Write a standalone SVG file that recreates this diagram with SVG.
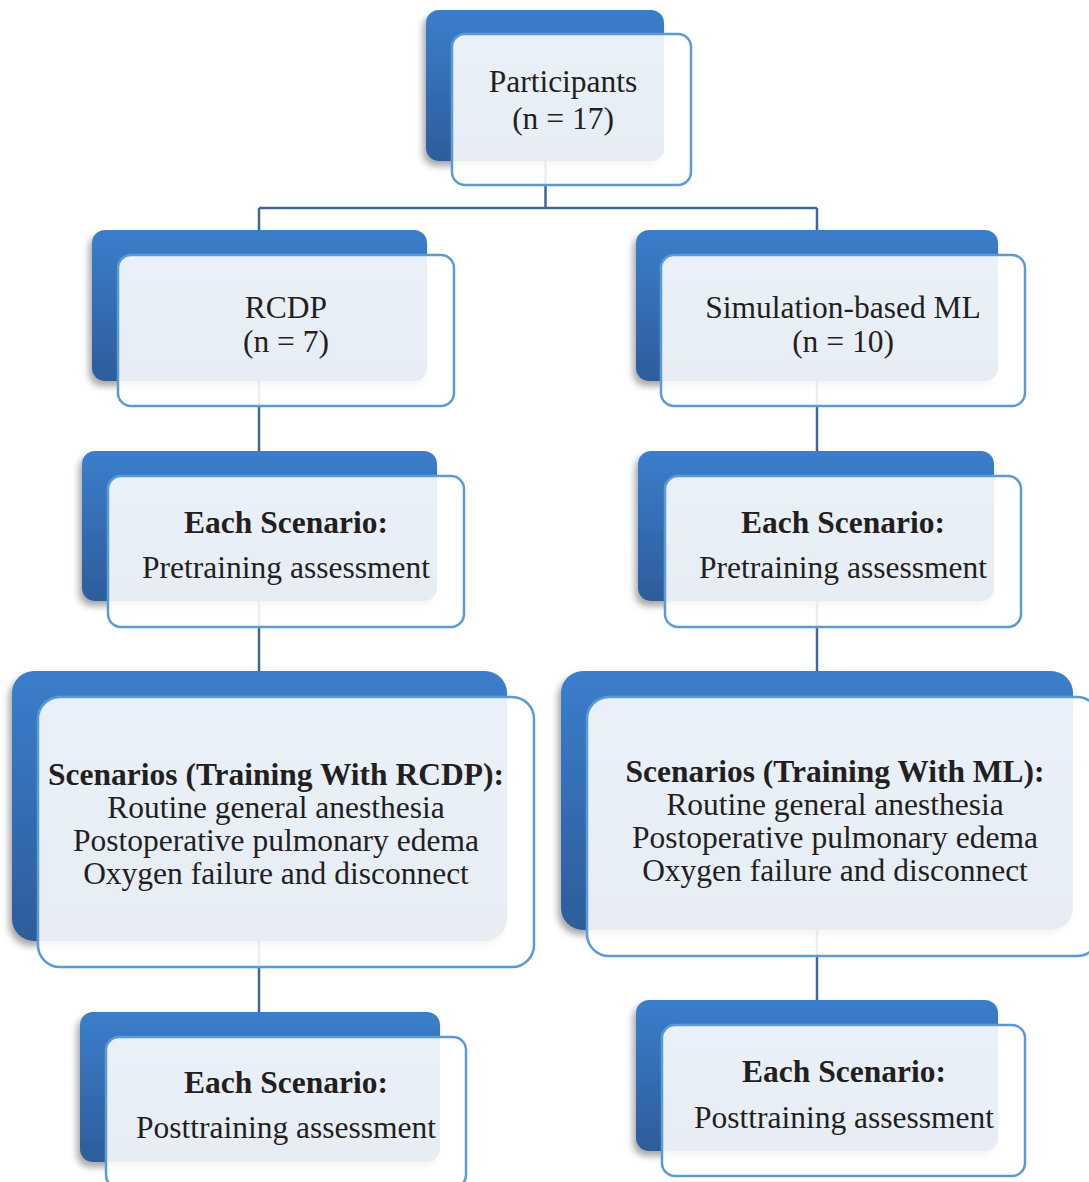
<svg xmlns="http://www.w3.org/2000/svg" width="1089" height="1182" viewBox="0 0 1089 1182">
<defs>
<linearGradient id="bg" x1="0" y1="0" x2="0" y2="1">
<stop offset="0" stop-color="#3b7ecb"/>
<stop offset="1" stop-color="#2d5d9b"/>
</linearGradient>
<filter id="sh" x="-10%" y="-10%" width="120%" height="130%">
<feDropShadow dx="-3" dy="5" stdDeviation="3.5" flood-color="#000" flood-opacity="0.35"/>
</filter>
<style>
.back{fill:url(#bg);filter:url(#sh)}
.front{fill:#ffffff;fill-opacity:0.89;stroke:#5b9bd5;stroke-width:2.5}
.t{font-family:"Liberation Serif","Times New Roman",serif;font-size:31.5px;fill:#231f20;text-anchor:middle}
.b{font-weight:bold}
.c{fill:none;stroke:#3f6797;stroke-width:2.5}
</style>
</defs>
<rect width="1089" height="1182" fill="#ffffff"/>
<g id="connectors">
<path class="c" d="M545.5 150 V208 M259 208 H817 M259 208 V1015 M817 208 V1003"/>
</g>
<g id="participants">
<rect class="back" x="426" y="10" width="238" height="151" rx="13"/>
<rect class="front" x="452" y="34" width="239" height="151" rx="13"/>
<text class="t" x="563" y="92">Participants</text>
<text class="t" x="563" y="129">(n = 17)</text>
</g>
<g id="rcdp">
<rect class="back" x="92" y="230" width="335" height="151" rx="13"/>
<rect class="front" x="118" y="255" width="336" height="151" rx="13"/>
<text class="t" x="286" y="318">RCDP</text>
<text class="t" x="286" y="352">(n = 7)</text>
</g>
<g id="simml">
<rect class="back" x="636" y="230" width="362" height="151" rx="13"/>
<rect class="front" x="661" y="255" width="364" height="151" rx="13"/>
<text class="t" x="843" y="318">Simulation-based ML</text>
<text class="t" x="843" y="352">(n = 10)</text>
</g>
<g id="pre-left">
<rect class="back" x="82" y="451" width="355" height="150" rx="13"/>
<rect class="front" x="108" y="476" width="356" height="151" rx="13"/>
<text class="t b" x="286" y="533">Each Scenario:</text>
<text class="t" x="286" y="578">Pretraining assessment</text>
</g>
<g id="pre-right">
<rect class="back" x="638" y="451" width="356" height="150" rx="13"/>
<rect class="front" x="665" y="476" width="356" height="151" rx="13"/>
<text class="t b" x="843" y="533">Each Scenario:</text>
<text class="t" x="843" y="578">Pretraining assessment</text>
</g>
<g id="scen-left">
<rect class="back" x="12" y="671" width="495" height="270" rx="22"/>
<rect class="front" x="38" y="697" width="496" height="270" rx="22"/>
<text class="t b" x="276" y="785">Scenarios (Training With RCDP):</text>
<text class="t" x="276" y="818">Routine general anesthesia</text>
<text class="t" x="276" y="851">Postoperative pulmonary edema</text>
<text class="t" x="276" y="884">Oxygen failure and disconnect</text>
</g>
<g id="scen-right">
<rect class="back" x="561" y="671" width="512" height="259" rx="22"/>
<rect class="front" x="587" y="697" width="512" height="259" rx="22"/>
<text class="t b" x="835" y="782">Scenarios (Training With ML):</text>
<text class="t" x="835" y="815">Routine general anesthesia</text>
<text class="t" x="835" y="848">Postoperative pulmonary edema</text>
<text class="t" x="835" y="881">Oxygen failure and disconnect</text>
</g>
<g id="post-left">
<rect class="back" x="80" y="1012" width="360" height="150" rx="13"/>
<rect class="front" x="106" y="1037" width="360" height="151" rx="13"/>
<text class="t b" x="286" y="1093">Each Scenario:</text>
<text class="t" x="286" y="1138">Posttraining assessment</text>
</g>
<g id="post-right">
<rect class="back" x="636" y="1000" width="362" height="151" rx="13"/>
<rect class="front" x="662" y="1025" width="363" height="151" rx="13"/>
<text class="t b" x="844" y="1082">Each Scenario:</text>
<text class="t" x="844" y="1128">Posttraining assessment</text>
</g>
</svg>
